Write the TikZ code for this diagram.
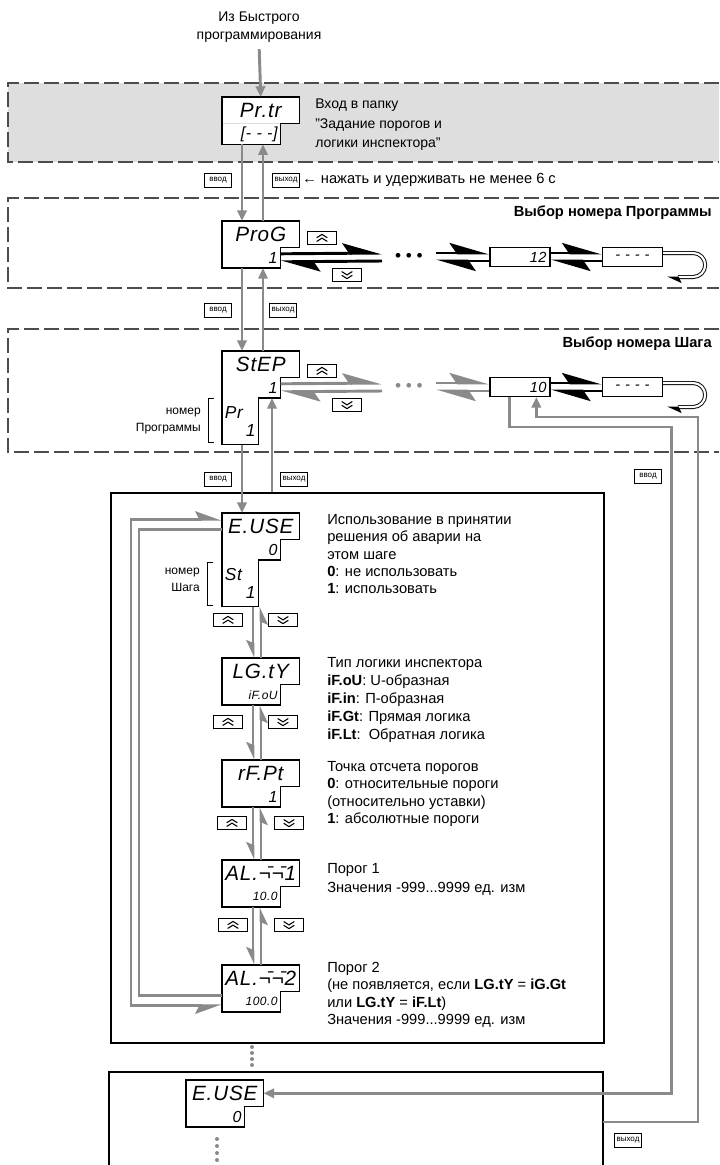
\documentclass[tikz,border=0pt]{standalone}
\usepackage{fontspec}
\setmainfont{Liberation Sans}
\newfontfamily\segfont[LetterSpace=4]{Liberation Sans}
\usetikzlibrary{arrows.meta}

\definecolor{linegray}{RGB}{138,138,138}
\definecolor{bandgray}{RGB}{222,222,222}

\tikzset{
  bandline/.style={draw=black!70, line width=1.4pt, dash pattern=on 11pt off 4pt},
  displine/.style={line width=1.1pt},
  disptop/.style={anchor=north west, inner sep=0pt, fill=white, minimum width=57.75pt,
    minimum height=19.5pt, font=\segfont\itshape\fontsize{15.5}{15.5}\selectfont},
  dispval/.style={anchor=north west, inner sep=2pt, fill=white, text width=39.5pt, align=right,
    minimum height=15pt, font=\segfont\itshape\fontsize{12}{12}\selectfont},
  displow/.style={anchor=north west, inner sep=2pt, fill=white, text width=23pt, align=left,
    minimum height=34.5pt, font=\segfont\itshape\fontsize{13}{13.5}\selectfont},
  smallseg/.style={font=\segfont\itshape\fontsize{9}{9}\selectfont},
  rowbox/.style={draw, line width=1pt, inner sep=2.5pt, text width=40pt, align=right,
    minimum height=14pt, font=\segfont\itshape\fontsize{11}{11}\selectfont},
  dotrow/.style={inner sep=0pt, minimum width=40pt, minimum height=8pt, font=\fontsize{13}{13}\selectfont},
  btn/.style={draw, line width=0.7pt, inner sep=0.5pt, minimum width=20pt, minimum height=10.5pt,
    font=\fontsize{6}{6}\selectfont},
  keybox/.style={draw, line width=1pt, inner sep=0pt, minimum width=22pt, minimum height=9.5pt},
  upkey/.style={keybox, path picture={
    \draw[line width=0.8pt] ([xshift=-4pt,yshift=-2.6pt]path picture bounding box.center)
      -- ++(4pt,2.5pt) -- ++(4pt,-2.5pt)
      ([xshift=-4pt,yshift=0.2pt]path picture bounding box.center)
      -- ++(4pt,2.5pt) -- ++(4pt,-2.5pt);}},
  downkey/.style={keybox, path picture={
    \draw[line width=0.8pt] ([xshift=-4pt,yshift=2.6pt]path picture bounding box.center)
      -- ++(4pt,-2.5pt) -- ++(4pt,2.5pt)
      ([xshift=-4pt,yshift=-0.2pt]path picture bounding box.center)
      -- ++(4pt,-2.5pt) -- ++(4pt,2.5pt);}},
  infotext/.style={anchor=north west, align=left, inner sep=0pt, font=\fontsize{11}{13}\selectfont},
  headtext/.style={anchor=east, inner sep=0pt, font=\bfseries\fontsize{11}{13}\selectfont},
  sidenote/.style={anchor=east, align=right, inner sep=0pt, font=\fontsize{9}{12.5}\selectfont},
  conn/.style={draw=linegray, line width=2.2pt},
  rowline/.style={line width=2.2pt},
  tri/.style={-{Triangle[length=8pt, width=7pt]}},
  bigharp/.style={-{Stealth[harpoon, length=26pt, width=15pt, inset=5pt]}},
  smallharp/.style={-{Stealth[harpoon, swap, length=11pt, width=10pt, inset=2pt]}},
  loopharps/.style={{Stealth[harpoon, swap, length=17pt, width=12pt, inset=3pt]}-{Stealth[harpoon, length=17pt, width=12pt, inset=3pt]}},
  uturn/.style={draw=black, line width=0.7pt, double=white, double distance=1.6pt,
    -{Stealth[harpoon, length=10pt, width=9pt, inset=2pt]}},
}

% outline of a display: top row plus value row (and lower row)
\newcommand{\dispoutline}[1]{%
  \draw[displine] (#1.north west) -- (#1.north east) -- (#1.south east)
    -- (#1-v.north east) -- (#1-v.south east) -- (#1-v.south west) -- cycle;}
\newcommand{\dispoutlinelow}[1]{%
  \draw[displine] (#1.north west) -- (#1.north east) -- (#1.south east)
    -- (#1-v.north east) -- (#1-v.south east) -- (#1-l.north east)
    -- (#1-l.south east) -- (#1-l.south west) -- cycle;}

\begin{document}
\begin{tikzpicture}[x=0.75pt, y=-0.75pt]
\useasboundingbox (0,0) rectangle (719,1165);

% dashed bands
\fill[bandgray] (8,83) rectangle (719,162);
\draw[bandline] (719,83) -- (8,83) -- (8,162) -- (719,162);
\draw[bandline] (719,198) -- (8,198) -- (8,288) -- (719,288);
\draw[bandline] (719,329) -- (8,329) -- (8,452) -- (719,452);

% entry into the folder
\node[align=center, inner sep=0pt, font=\fontsize{10.5}{13.5}\selectfont] (fromquick) at (259,27) {Из Быстрого\\программирования};
\node[disptop] (prtr) at (222,97) {Pr.tr};
\node[dispval] (prtr-v) at (prtr.south west) {[- - -]};
\dispoutline{prtr}
\node[infotext, font=\fontsize{10.5}{14.5}\selectfont] (prtrtext) at (315,99) {Вход в папку\\"Задание порогов и\\логики инспектора"};
\draw[conn, tri, shorten <=5pt] (fromquick.south) -- (prtr.north);
\node[btn] (enter1) at (218,180) {ввод};
\node[btn] (exit1) at (286,180) {выход};
\node[anchor=west, inner sep=0pt, font=\fontsize{11}{13}\selectfont] (holdtext) at (302,180) {← нажать и удерживать не менее 6 с};

% programme number
\node[headtext] (progtitle) at (712,213) {Выбор номера Программы};
\node[disptop] (prog) at (222,221) {ProG};
\node[dispval] (prog-v) at (prog.south west) {1};
\dispoutline{prog}
\draw[conn, tri] ([xshift=15pt]prtr-v.south west) -- ([xshift=15pt]prog.north west);
\draw[conn, tri] ([xshift=30.75pt]prog.north west) -- ([xshift=30.75pt]prtr-v.south west);
\node[upkey] (prog-up) at (322,238) {};
\node[downkey] (prog-dn) at (347,275) {};
\node[dotrow] (prog-dots) at (409,257) {•\hspace{3.5pt}•\hspace{3.5pt}•};
\node[rowbox] (twelve) at (520,257) {12};
\node[rowbox, align=center] (prog-end) at (632.5,257) {- - - -};
\draw[rowline, bigharp] ([yshift=3pt]prog-v.east) -- ([yshift=3pt]prog-dots.west);
\draw[rowline, bigharp] ([yshift=-3pt]prog-dots.west) -- ([yshift=-3pt]prog-v.east);
\draw[rowline, bigharp] ([yshift=3pt]prog-dots.east) -- ([yshift=3pt]twelve.west);
\draw[rowline, bigharp] ([yshift=-3pt]twelve.west) -- ([yshift=-3pt]prog-dots.east);
\draw[rowline, bigharp] ([yshift=3pt]twelve.east) -- ([yshift=3pt]prog-end.west);
\draw[rowline, bigharp] ([yshift=-3pt]prog-end.west) -- ([yshift=-3pt]twelve.east);
\draw[uturn] ([yshift=3pt]prog-end.east) -- ++(30,0) arc[start angle=-90, end angle=90, radius=12] -- ++(-26,0);
\node[btn] (enter2) at (218,310) {ввод};
\node[btn] (exit2) at (283,310) {выход};

% step number
\node[headtext] (steptitle) at (712,344) {Выбор номера Шага};
\node[disptop] (step) at (222,351) {StEP};
\node[dispval] (step-v) at (step.south west) {1};
\node[displow] (step-l) at (step-v.south west) {Pr\\\hspace*{\fill}1};
\dispoutlinelow{step}
\draw[conn, tri] ([xshift=15pt]prog-v.south west) -- ([xshift=15pt]step.north west);
\draw[conn, tri] ([xshift=30.75pt]step.north west) -- ([xshift=30.75pt]prog-v.south west);
\node[sidenote] (prognum) at (201,421) {номер\\Программы};
\draw[line width=0.6pt] (214,398) -| (208,442) -- (214,442);
\node[upkey] (step-up) at (322,371) {};
\node[downkey] (step-dn) at (347,405) {};
\node[dotrow, text=linegray] (step-dots) at (409,387) {•\hspace{3.5pt}•\hspace{3.5pt}•};
\node[rowbox] (ten) at (520,387) {10};
\node[rowbox, align=center] (step-end) at (632.5,387) {- - - -};
\draw[rowline, linegray, bigharp] ([yshift=3pt]step-v.east) -- ([yshift=3pt]step-dots.west);
\draw[rowline, linegray, bigharp] ([yshift=-3pt]step-dots.west) -- ([yshift=-3pt]step-v.east);
\draw[rowline, linegray, bigharp] ([yshift=3pt]step-dots.east) -- ([yshift=3pt]ten.west);
\draw[rowline, linegray, bigharp] ([yshift=-3pt]ten.west) -- ([yshift=-3pt]step-dots.east);
\draw[rowline, bigharp] ([yshift=3pt]ten.east) -- ([yshift=3pt]step-end.west);
\draw[rowline, bigharp] ([yshift=-3pt]step-end.west) -- ([yshift=-3pt]ten.east);
\draw[uturn] ([yshift=3pt]step-end.east) -- ++(30,0) arc[start angle=-90, end angle=90, radius=12] -- ++(-26,0);

% parameters of one step
\node[draw, line width=1.3pt, anchor=north west, inner sep=0pt, minimum width=369.75pt, minimum height=412.5pt] (mainbox) at (110,492) {};
\node[btn] (enter3) at (218,479) {ввод};
\node[btn] (exit3) at (294,479) {выход};

\node[disptop] (euse) at (222,513) {E.USE};
\node[dispval] (euse-v) at (euse.south west) {0};
\node[displow] (euse-l) at (euse-v.south west) {St\\\hspace*{\fill}1};
\dispoutlinelow{euse}
\draw[conn, tri] ([xshift=15pt]step-l.south west) -- ([xshift=15pt]euse.north west);
\coordinate (stepexit) at ([xshift=37.5pt]step-v.south west);
\draw[conn, tri] (stepexit |- mainbox.north) -- (stepexit);
\node[sidenote] (stepnum) at (200,580) {номер\\Шага};
\draw[line width=0.6pt] (213,562) -| (207,605) -- (213,605);
\node[infotext] (eusetext) at (327,514) {Использование в принятии\\решения об аварии на\\этом шаге\\\textbf{0}: не использовать\\\textbf{1}: использовать};
\node[upkey] (euse-up) at (228,620) {};
\node[downkey] (euse-dn) at (283,620) {};

\node[disptop] (lgty) at (222,658) {LG.tY};
\node[dispval, smallseg] (lgty-v) at (lgty.south west) {iF.oU};
\dispoutline{lgty}
\node[infotext, font=\fontsize{11}{13.5}\selectfont] (lgtytext) at (327,657) {Тип логики инспектора\\\textbf{iF.oU}: U-образная\\\textbf{iF.in}: П-образная\\\textbf{iF.Gt}: Прямая логика\\\textbf{iF.Lt}:\ \ Обратная логика};
\node[upkey] (lgty-up) at (228,722) {};
\node[downkey] (lgty-dn) at (283,722) {};

\node[disptop] (rfpt) at (222,760) {rF.Pt};
\node[dispval] (rfpt-v) at (rfpt.south west) {1};
\dispoutline{rfpt}
\node[infotext] (rfpttext) at (327,761) {Точка отсчета порогов\\\textbf{0}: относительные пороги\\(относительно уставки)\\\textbf{1}: абсолютные пороги};
\node[upkey] (rfpt-up) at (232,823) {};
\node[downkey] (rfpt-dn) at (289,823) {};

\node[disptop] (al1) at (222,860) {AL.\=¬\=¬1};
\node[dispval, smallseg] (al1-v) at (al1.south west) {10.0};
\dispoutline{al1}
\node[infotext, font=\fontsize{11}{14.5}\selectfont] (al1text) at (327,863) {Порог 1\\Значения -999...9999 ед. изм};
\node[upkey] (al1-up) at (233,925) {};
\node[downkey] (al1-dn) at (289,925) {};

\node[disptop] (al2) at (222,965) {AL.\=¬\=¬2};
\node[dispval, smallseg] (al2-v) at (al2.south west) {100.0};
\dispoutline{al2}
\node[infotext] (al2text) at (327,962) {Порог 2\\(не появляется, если \textbf{LG.tY} = \textbf{iG.Gt}\\или \textbf{LG.tY} = \textbf{iF.Lt})\\Значения -999...9999 ед. изм};

% up and down through the parameters
\draw[conn, smallharp] ([xshift=23.25pt]euse-l.south west) -- ([xshift=23.25pt]lgty.north west);
\draw[conn, smallharp] ([xshift=29.25pt]lgty.north west) -- ([xshift=29.25pt]euse-l.south west);
\draw[conn, smallharp] ([xshift=23.25pt]lgty-v.south west) -- ([xshift=23.25pt]rfpt.north west);
\draw[conn, smallharp] ([xshift=29.25pt]rfpt.north west) -- ([xshift=29.25pt]lgty-v.south west);
\draw[conn, smallharp] ([xshift=23.25pt]rfpt-v.south west) -- ([xshift=23.25pt]al1.north west);
\draw[conn, smallharp] ([xshift=29.25pt]al1.north west) -- ([xshift=29.25pt]rfpt-v.south west);
\draw[conn, smallharp] ([xshift=23.25pt]al1-v.south west) -- ([xshift=23.25pt]al2.north west);
\draw[conn, smallharp] ([xshift=29.25pt]al2.north west) -- ([xshift=29.25pt]al1-v.south west);

% return from the last parameter to the first one
\draw[conn] ([yshift=-2.25pt]euse.west) -- ++(-83,0) |- ([yshift=4.5pt]al2-v.west);
\draw[conn, loopharps] ([yshift=-3pt]al2-v.west) -- ++(-91,0) |- ([yshift=5.25pt]euse.west);

% next step
\foreach \y in {1047,1053,1059,1065}
  \fill[linegray] (252,\y) circle[radius=1.5pt];
\draw[line width=1.3pt] (109,1165) -- (109,1072) -- (603,1072) -- (603,1165);
\coordinate (lowexit) at (603,1122);
\node[disptop] (euse2) at (186,1080) {E.USE};
\node[dispval] (euse2-v) at (euse2.south west) {0};
\dispoutline{euse2}
\foreach \y in {1139,1146,1153,1160}
  \fill[linegray] (217,\y) circle[radius=1.5pt];

% links on the right
\draw[conn, tri] ([xshift=15pt]ten.south west) -- ++(0,30) -- ++(162,0) |- (euse2.east);
\node[btn] (enter4) at (648,476) {ввод};
\draw[conn, tri] (lowexit) -- ++(95,0) -- ++(0,-705) -| ([xshift=35.25pt]ten.south west);
\node[btn] (exit4) at (628,1140) {выход};
\end{tikzpicture}
\end{document}
